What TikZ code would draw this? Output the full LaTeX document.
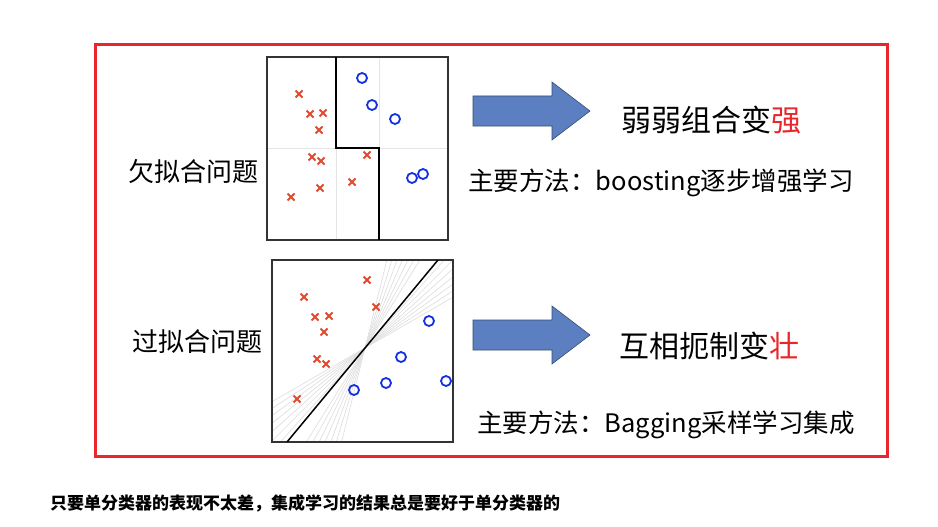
\documentclass[tikz,border=0pt]{standalone}
\usepackage{fontspec}
\setmainfont{Noto Sans CJK SC}
\definecolor{framered}{HTML}{E8262B}
\definecolor{ptred}{HTML}{E04A2F}
\definecolor{ptblue}{HTML}{1530E0}
\definecolor{arrowblue}{HTML}{5B7FC0}
\tikzset{
crossmark/.style={ptred,line width=1.8pt},
circlemark/.style={circle,draw=ptblue,line width=1.8pt,inner sep=0pt,minimum size=10pt},
blockarrow/.style={draw=arrowblue!60!black,fill=arrowblue,line width=0.6pt},
bigtext/.style={font=\fontsize{30}{34}\selectfont,inner sep=0pt},
sidetext/.style={font=\fontsize{26}{30}\selectfont,inner sep=0pt},
midtext/.style={font=\fontsize{25.5}{29}\selectfont,inner sep=0pt},
}
\newcommand{\xmark}[2]{\draw[crossmark] (#1-3.5,#2-3.5)--(#1+3.5,#2+3.5) (#1-3.5,#2+3.5)--(#1+3.5,#2-3.5);}
\newcommand{\blockarrowat}[1]{\draw[blockarrow] (473,#1-15)--(552,#1-15)--(552,#1-29)--(590,#1)--(552,#1+29)--(552,#1+15)--(473,#1+15)--cycle;}
\begin{document}
\begin{tikzpicture}[x=1pt,y=-1pt]
        \useasboundingbox (0,0) rectangle (938,527);
        \draw[framered,line width=3pt] (95,45) rectangle (887,456);

        % underfitting
        \draw[gray!20,line width=1pt] (336,57)--(336,240) (379,57)--(379,240) (267,148)--(448,148);
        \draw[black!80,line width=1.2pt] (267,57) rectangle (448,240);
        \draw[black,line width=2pt] (336,57)--(336,148)--(379,148)--(379,240);
        \foreach \px/\py in {299/94,310/114,323/113,319/130,312/157,321/161,367/155,320/188,352/182,291/197}
          {\xmark{\px}{\py}}
        \foreach \px/\py [count=\i] in {362/78,372/105,395/119,412/178,423/174}
          \node[circlemark] (u\i) at (\px,\py) {};

        % overfitting
        \begin{scope}
        \clip (272,260) rectangle (453,442);
        \foreach \a in {30,33,...,48,58,61,...,76}
          \draw[gray!25,line width=0.7pt] (365,348) -- +(-\a:-220) (365,348) -- +(-\a:220);
        \end{scope}
        \draw[black!80,line width=1.2pt] (272,260) rectangle (453,442);
        \draw[black,line width=1.5pt] (287,442)--(438,260);
        \foreach \px/\py in {304/297,315/317,329/316,324/332,317/359,326/364,367/280,376/307,297/399}
          {\xmark{\px}{\py}}
        \foreach \px/\py [count=\i] in {429/321,401/357,446/381,386/383,354/390}
          \node[circlemark] (o\i) at (\px,\py) {};

        % labels
        \node[sidetext] (under) at (193,172) {欠拟合问题};
        \node[sidetext] (over) at (197,342) {过拟合问题};
        \blockarrowat{111}
        \blockarrowat{335}
        \node[bigtext] (strong) at (711,120) {弱弱组合变\textcolor{framered}{强}};
        \node[midtext] (boost) at (661,183) {主要方法：boosting逐步增强学习};
        \node[bigtext] (sturdy) at (709,346) {互相扼制变\textcolor{framered}{壮}};
        \node[midtext] (bag) at (666,425) {主要方法：Bagging采样学习集成};
        \node[font=\bfseries\fontsize{17}{20}\selectfont,anchor=west,inner sep=0pt] (note) at (50,503) {只要单分类器的表现不太差，集成学习的结果总是要好于单分类器的};
\end{tikzpicture}
\end{document}
